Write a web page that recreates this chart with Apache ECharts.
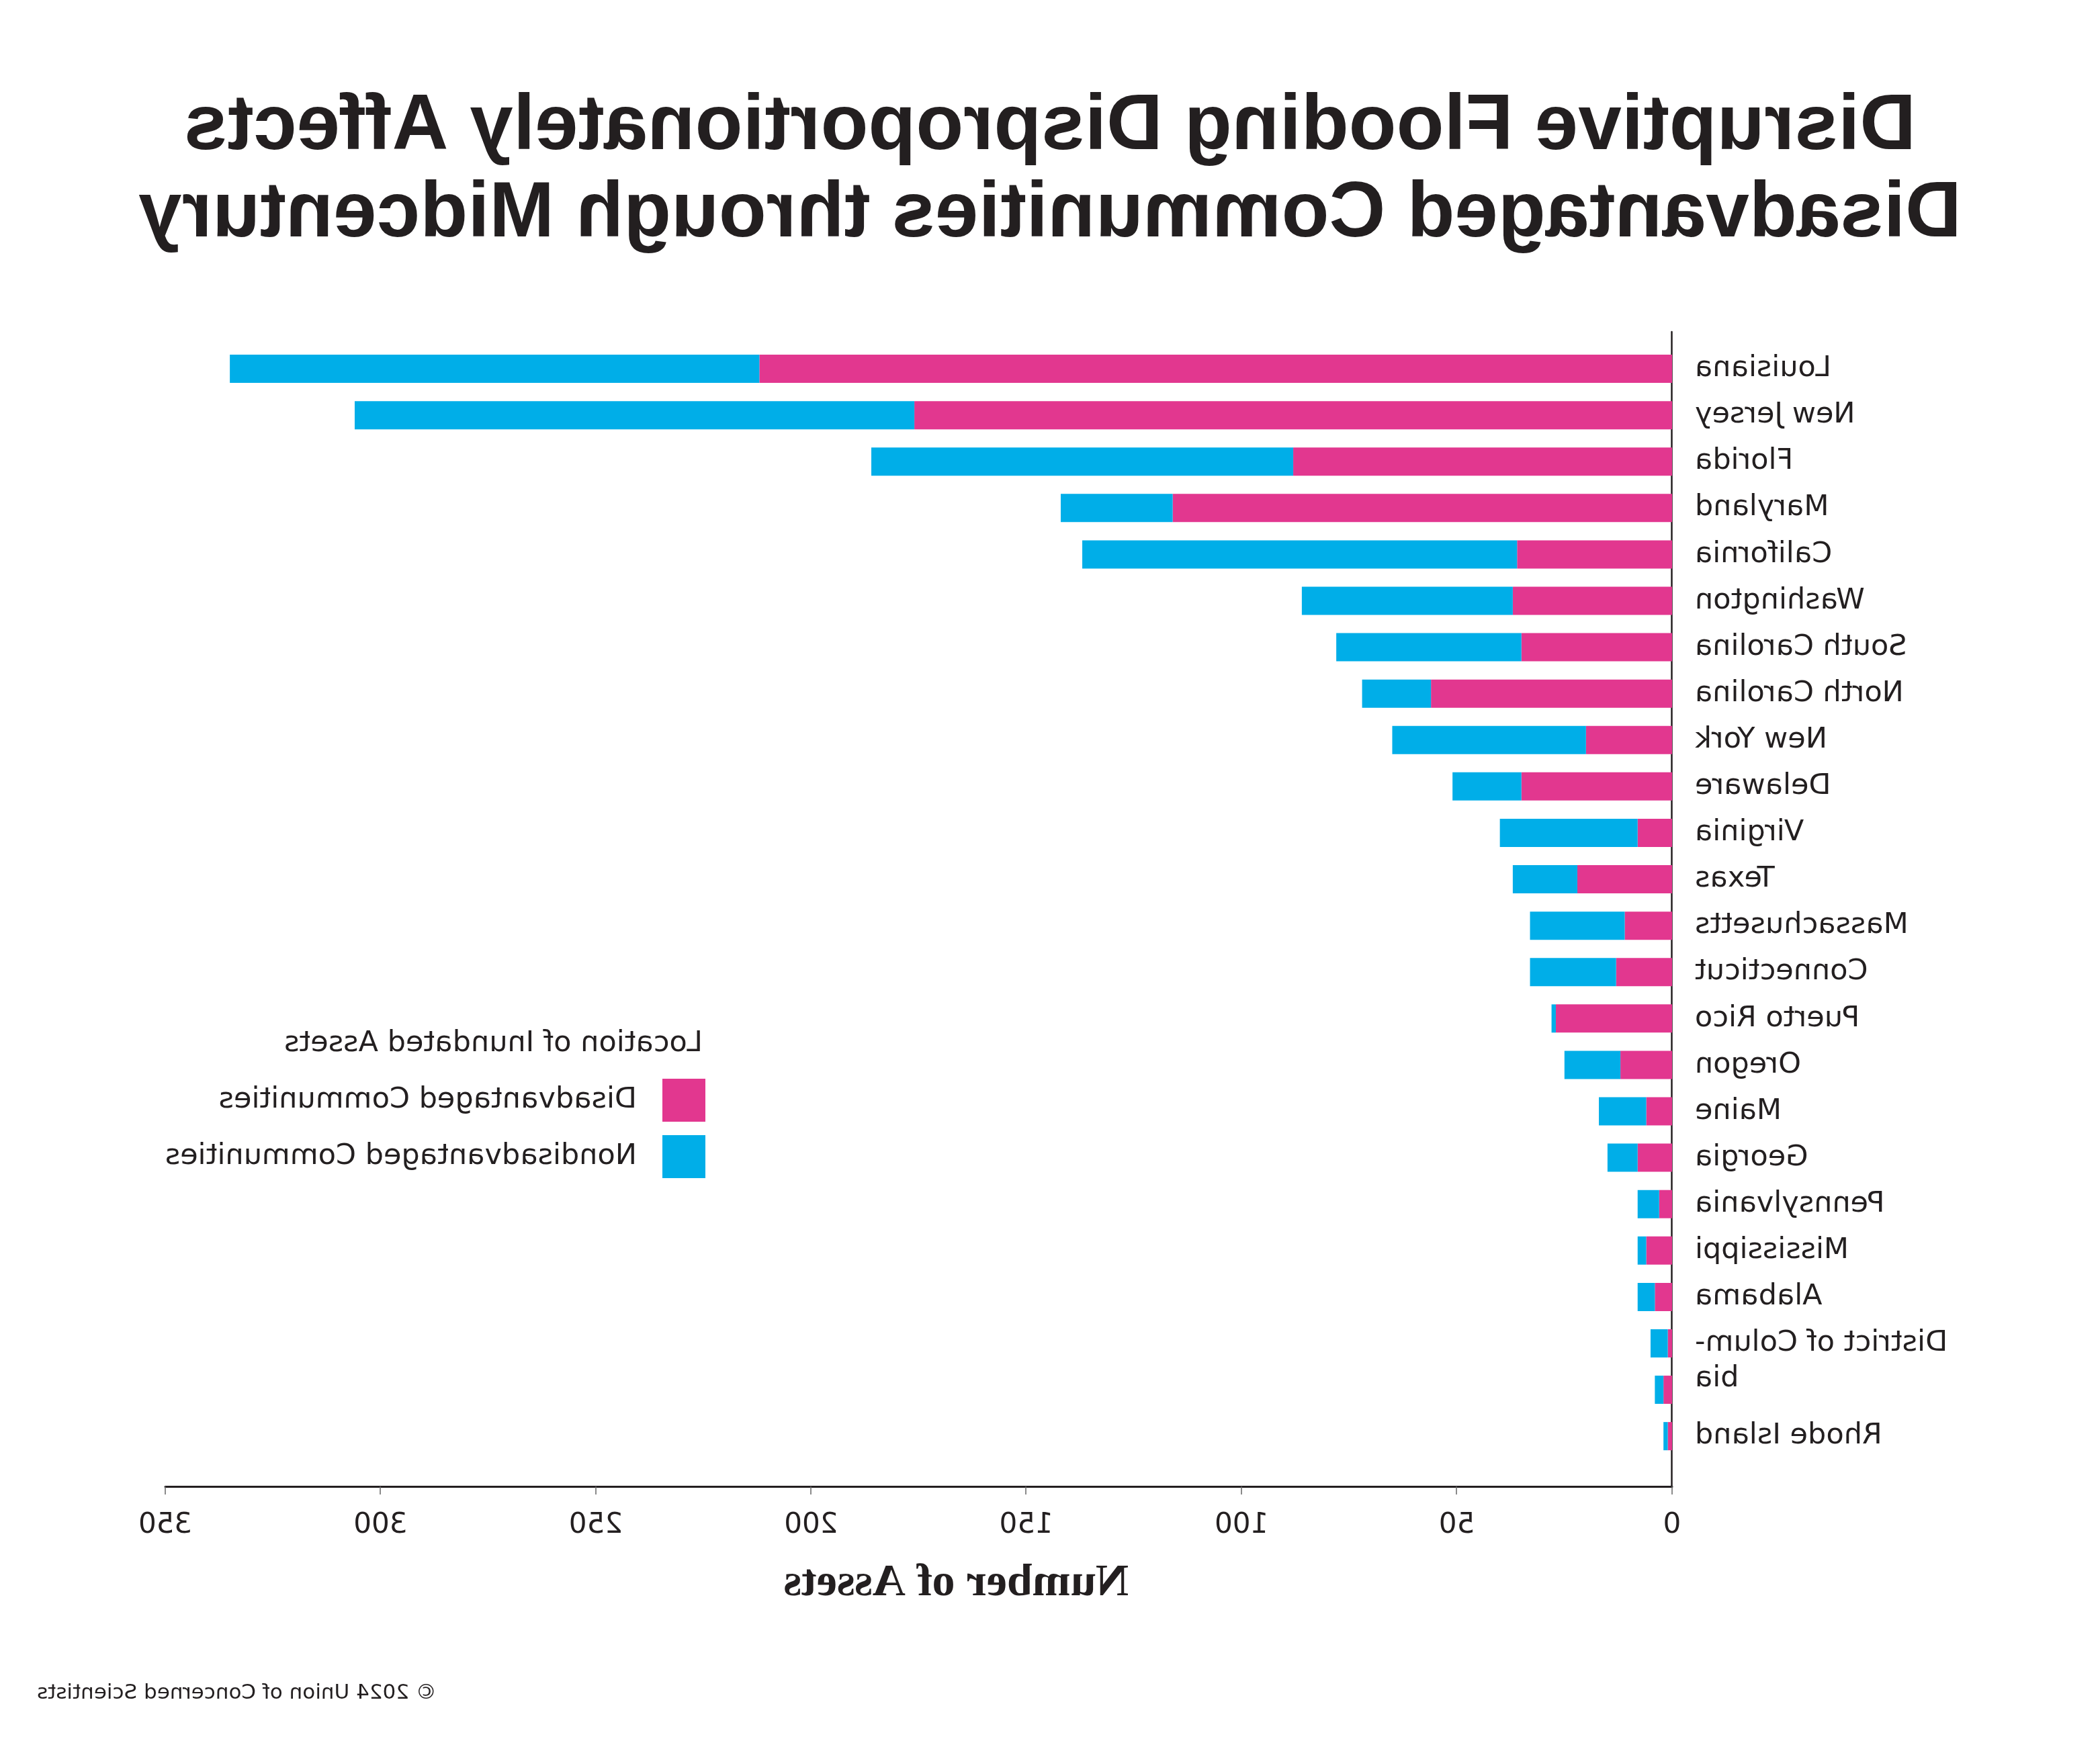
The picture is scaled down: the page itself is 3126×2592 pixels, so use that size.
<!DOCTYPE html>
<html>
<head>
<meta charset="utf-8">
<script src="https://cdn.jsdelivr.net/npm/echarts@6/dist/echarts.min.js"></script>
<style>
html,body{margin:0;padding:0;background:#fff;}
#chart{width:3126px;height:2592px;transform:scaleX(-1);}
</style>
</head>
<body>
<div id="chart"></div>
<script>
// Data (drawn mirrored, as in the reference)
const states = ['Louisiana','New Jersey','Florida','Maryland','California','Washington','South Carolina','North Carolina','New York','Delaware','Virginia','Texas','Massachusetts','Connecticut','Puerto Rico','Oregon','Maine','Georgia','Pennsylvania','Mississippi','Alabama','District of Colum-\nbia','','Rhode Island'];
const disadvantaged = [212,176,88,116,36,37,35,56,20,35,8,22,11,13,27,12,6,8,3,6,4,1,2,1];
const nondisadvantaged = [123,130,98,26,101,49,43,16,45,16,32,15,22,20,1,13,11,7,5,2,4,4,2,1];
const xTicks = {min:0, max:350, interval:50};
const seriesNames = ['Disadvantaged Communities','Nondisadvantaged Communities'];
const titleText = 'Disruptive Flooding Disproportionately Affects\nDisadvantaged Communities through Midcentury';
const legendTitle = 'Location of Inundated Assets';
const xName = 'Number of Assets';
const footnote = '\u00A9 2024 Union of Concerned Scientists';

const PINK = '#E2378F', BLUE = '#00AEE8', INK = '#231F20';
const SANS = 'DejaVu Sans';

const chart = echarts.init(document.getElementById('chart'), null, {renderer:'canvas'});
const option = {
  backgroundColor:'#fff',
  animation:false,
  title:[
    {text:titleText, left:'center', top:120,
     textStyle:{fontFamily:'Liberation Sans', fontWeight:'bold', fontSize:116, lineHeight:130, color:INK}},
    {text:legendTitle, left:2075, top:1524,
     textStyle:{fontFamily:SANS, fontWeight:'normal', fontSize:43, lineHeight:50, color:INK}},
    {text:footnote, right:50, top:2498,
     textStyle:{fontFamily:SANS, fontWeight:'normal', fontSize:31, lineHeight:36, color:INK}}
  ],
  legend:{
    orient:'vertical', left:2071, top:1601, itemWidth:64, itemHeight:64, itemGap:20,
    icon:'rect', selectedMode:false, data:seriesNames,
    textStyle:{fontFamily:SANS, fontSize:43, color:INK, padding:[0,0,0,33]}
  },
  grid:[
    {left:637, right:246, top:494, bottom:379, containLabel:false, outerBoundsMode:'none'},
    {left:637, right:246, top:514.5, bottom:419.3, containLabel:false, outerBoundsMode:'none'}
  ],
  xAxis:[
    {type:'value', gridIndex:0, min:xTicks.min, max:xTicks.max, interval:xTicks.interval,
     axisLine:{show:true, lineStyle:{color:INK, width:3}},
     axisTick:{show:true, length:12, lineStyle:{color:'#666', width:1.5}},
     axisLabel:{fontFamily:SANS, fontSize:42, color:INK, margin:37},
     splitLine:{show:false},
     name:xName, nameLocation:'middle', nameGap:110,
     nameTextStyle:{fontFamily:'Liberation Serif', fontWeight:'bold', fontSize:68, color:INK, padding:[0,112,0,0]}},
    {type:'value', gridIndex:1, min:xTicks.min, max:xTicks.max, show:false}
  ],
  yAxis:[
    {type:'value', gridIndex:0, min:0, max:1,
     axisLine:{show:true, onZero:false, lineStyle:{color:INK, width:2.5}},
     axisTick:{show:false}, axisLabel:{show:false}, splitLine:{show:false}},
    {type:'category', gridIndex:1, inverse:true, data:states,
     axisLine:{show:false}, axisTick:{show:false}, splitLine:{show:false},
     axisLabel:{fontFamily:SANS, fontSize:43, color:INK, margin:34, interval:0, lineHeight:53,
       // wrapped labels: keep the first line level with its bar
       formatter: v => v.indexOf('\n') >= 0 ? '\n' + v : v}}
  ],
  series:[
    {name:seriesNames[0], type:'bar', stack:'total', xAxisIndex:1, yAxisIndex:1,
     data:disadvantaged, barWidth:42, itemStyle:{color:PINK}},
    {name:seriesNames[1], type:'bar', stack:'total', xAxisIndex:1, yAxisIndex:1,
     data:nondisadvantaged, barWidth:42, itemStyle:{color:BLUE}}
  ]
};
chart.setOption(option);
</script>
</body>
</html>
